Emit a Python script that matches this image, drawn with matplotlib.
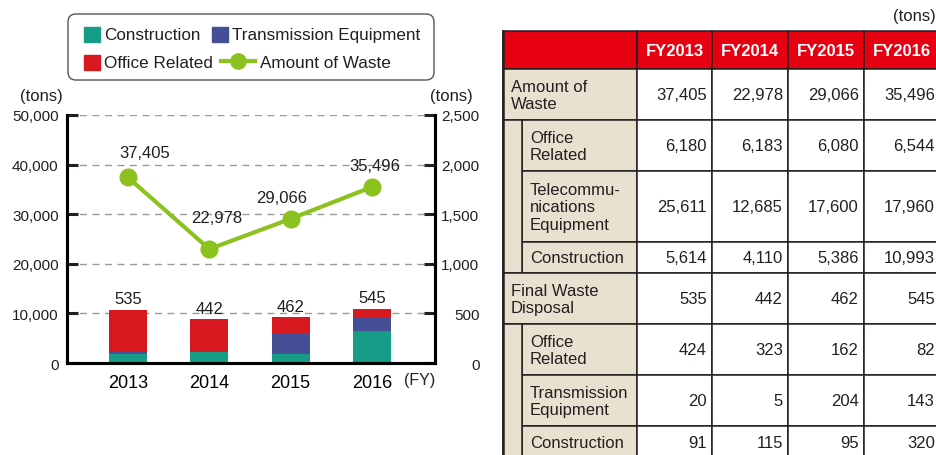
import matplotlib
matplotlib.use("Agg")
import matplotlib.pyplot as plt
from matplotlib.patches import Rectangle, FancyBboxPatch
from matplotlib.lines import Line2D

plt.rcParams['font.family'] = ['Liberation Sans', 'DejaVu Sans']
plt.rcParams['text.color'] = '#231f20'

# data (tons)
years = ['2013', '2014', '2015', '2016']
waste_total = [37405, 22978, 29066, 35496]
waste_office = [6180, 6183, 6080, 6544]
waste_telecom = [25611, 12685, 17600, 17960]
waste_construction = [5614, 4110, 5386, 10993]
final_total = [535, 442, 462, 545]
final_office = [424, 323, 162, 82]
final_trans = [20, 5, 204, 143]
final_construction = [91, 115, 95, 320]

names = ['Construction', 'Transmission Equipment', 'Office Related', 'Amount of Waste']
c_con = '#179c88'
c_tra = '#444f96'
c_off = '#d7191f'
c_line = '#8cc21f'
ink = '#231f20'
W, H = 937, 456

fig = plt.figure(figsize=(W / 100, H / 100), dpi=100)
ax = fig.add_axes([67 / W, 1 - 364 / H, 368 / W, 248 / H])
ax2 = ax.twinx()
ax.set_zorder(ax2.get_zorder() + 1)
ax.patch.set_visible(False)

x = list(range(len(years)))

# stacked final disposal bars on the right scale
bot = [0] * 4
for vals, col in [(final_construction, c_con), (final_trans, c_tra), (final_office, c_off)]:
    ax2.bar(x, vals, 0.47, bottom=bot, color=col, zorder=2)
    bot = [b + v for b, v in zip(bot, vals)]
for i, v in enumerate(final_total):
    ax2.annotate(f"{v:,}", (x[i], bot[i]), textcoords='offset pixels', xytext=(0, 11),
                 ha='center', va='center', fontsize=12)

# amount of waste line on the left scale
ax.plot(x, waste_total, color=c_line, lw=3, marker='o', ms=12, zorder=3)
offs = [(17, 25), (7, 32), (-9, 21), (3, 21)]
for i, v in enumerate(waste_total):
    ax.annotate(f"{v:,}", (x[i], v), textcoords='offset pixels', xytext=offs[i],
                ha='center', va='center', fontsize=12)

ax.set_xlim(-0.75, 3.775)
ax.set_ylim(0, 50000)
ax2.set_ylim(0, 2500)
ax.set_yticks(range(0, 50001, 10000))
ax2.set_yticks(range(0, 2501, 500))
ax.set_yticklabels([f"{v:,}" for v in range(0, 50001, 10000)])
ax2.set_yticklabels([f"{v:,}" for v in range(0, 2501, 500)])
ax.set_xticks(x)
ax.set_xticklabels(years, fontsize=13)
ax.tick_params(axis='x', length=0, pad=8)
ax.tick_params(axis='y', direction='in', length=8, width=2.2, labelsize=11, pad=6, colors=ink)
ax2.tick_params(axis='y', direction='in', length=8, width=2.2, labelsize=11, pad=32, colors=ink)
for lab in ax2.get_yticklabels():
    lab.set_ha('right')

ax2.yaxis.grid(True, color='#9a9a9a', ls=(0, (5, 4)), lw=1)
ax2.set_axisbelow(True)
for a in (ax, ax2):
    a.spines['top'].set_visible(False)
    for s in ('left', 'right', 'bottom'):
        a.spines[s].set_linewidth(2.2)
        a.spines[s].set_color('black')

ax.annotate('(tons)', (0, 1), xycoords='axes fraction', textcoords='offset pixels',
            xytext=(-4, 19), ha='right', va='center', fontsize=12)
ax.annotate('(tons)', (1, 1), xycoords='axes fraction', textcoords='offset pixels',
            xytext=(-5, 19), ha='left', va='center', fontsize=12)
ax.annotate('(FY)', (1, 0), xycoords='axes fraction', textcoords='offset pixels',
            xytext=(0, -17), ha='right', va='center', fontsize=11.5)

# overlay in pixel coordinates for legend and table
ov = fig.add_axes([0, 0, 1, 1])
ov.set_xlim(0, W)
ov.set_ylim(H, 0)
ov.axis('off')

ov.add_patch(FancyBboxPatch((68, 15), 366, 66, boxstyle='round,pad=0,rounding_size=8',
                            fc='white', ec='#555555', lw=1))
ov.add_patch(Rectangle((84, 28), 16, 15, color=c_con))
ov.text(104, 35.5, names[0], fontsize=12.3, va='center')
ov.add_patch(Rectangle((212, 28), 16, 15, color=c_tra))
ov.text(232, 35.5, names[1], fontsize=12.3, va='center')
ov.add_patch(Rectangle((84, 56), 16, 15, color=c_off))
ov.text(104, 63.5, names[2], fontsize=12.3, va='center')
ov.add_line(Line2D([221, 255], [62, 62], color=c_line, lw=3))
ov.plot([238], [62], 'o', color=c_line, ms=11)
ov.text(260, 63.5, names[3], fontsize=12.3, va='center')

# table
red = '#e60012'
beige = '#e9e1cf'
cols = [503, 637, 712, 788, 864, 940]
ov.text(936, 16, '(tons)', fontsize=12, va='center', ha='right')

lw = 1.1
ov.add_patch(Rectangle((cols[0], 32), cols[1] - cols[0], 38, fc=red, ec=ink, lw=lw))
for j, y in enumerate(years):
    ov.add_patch(Rectangle((cols[j + 1], 32), cols[j + 2] - cols[j + 1], 38, fc=red, ec=ink, lw=lw))
    ov.text((cols[j + 1] + cols[j + 2]) / 2, 51.5, 'FY' + y, color='white', fontsize=12,
            fontweight='bold', ha='center', va='center')

groups = [
    ('Amount of\nWaste', waste_total, [
        ('Office\nRelated', waste_office),
        ('Telecommu-\nnications\nEquipment', waste_telecom),
        ('Construction', waste_construction)]),
    ('Final Waste\nDisposal', final_total, [
        ('Office\nRelated', final_office),
        ('Transmission\nEquipment', final_trans),
        ('Construction', final_construction)]),
]


def row(y0, label, vals, indent):
    h = 12 + 19.5 * (label.count('\n') + 1)
    x0 = cols[0] + 19 * indent
    ov.add_patch(Rectangle((x0, y0), cols[1] - x0, h, fc=beige, ec=ink, lw=lw))
    ov.text(x0 + 8, y0 + h / 2 + 0.5, label, fontsize=12, va='center', ha='left', linespacing=1.22)
    for j, v in enumerate(vals):
        ov.add_patch(Rectangle((cols[j + 1], y0), cols[j + 2] - cols[j + 1], h, fc='white', ec=ink, lw=lw))
        ov.text(cols[j + 2] - 5, y0 + h / 2 + 0.5, f"{v:,}", fontsize=12, va='center', ha='right')
    return y0 + h


y = 70
for label, vals, subs in groups:
    y = row(y, label, vals, 0)
    top = y
    for sl, sv in subs:
        y = row(y, sl, sv, 1)
    ov.add_patch(Rectangle((cols[0], top), 19, y - top, fc=beige, ec=ink, lw=lw))
ov.add_line(Line2D([cols[0], cols[0]], [32, y], color=ink, lw=1.8))

fig.savefig('out.png', dpi=100)
